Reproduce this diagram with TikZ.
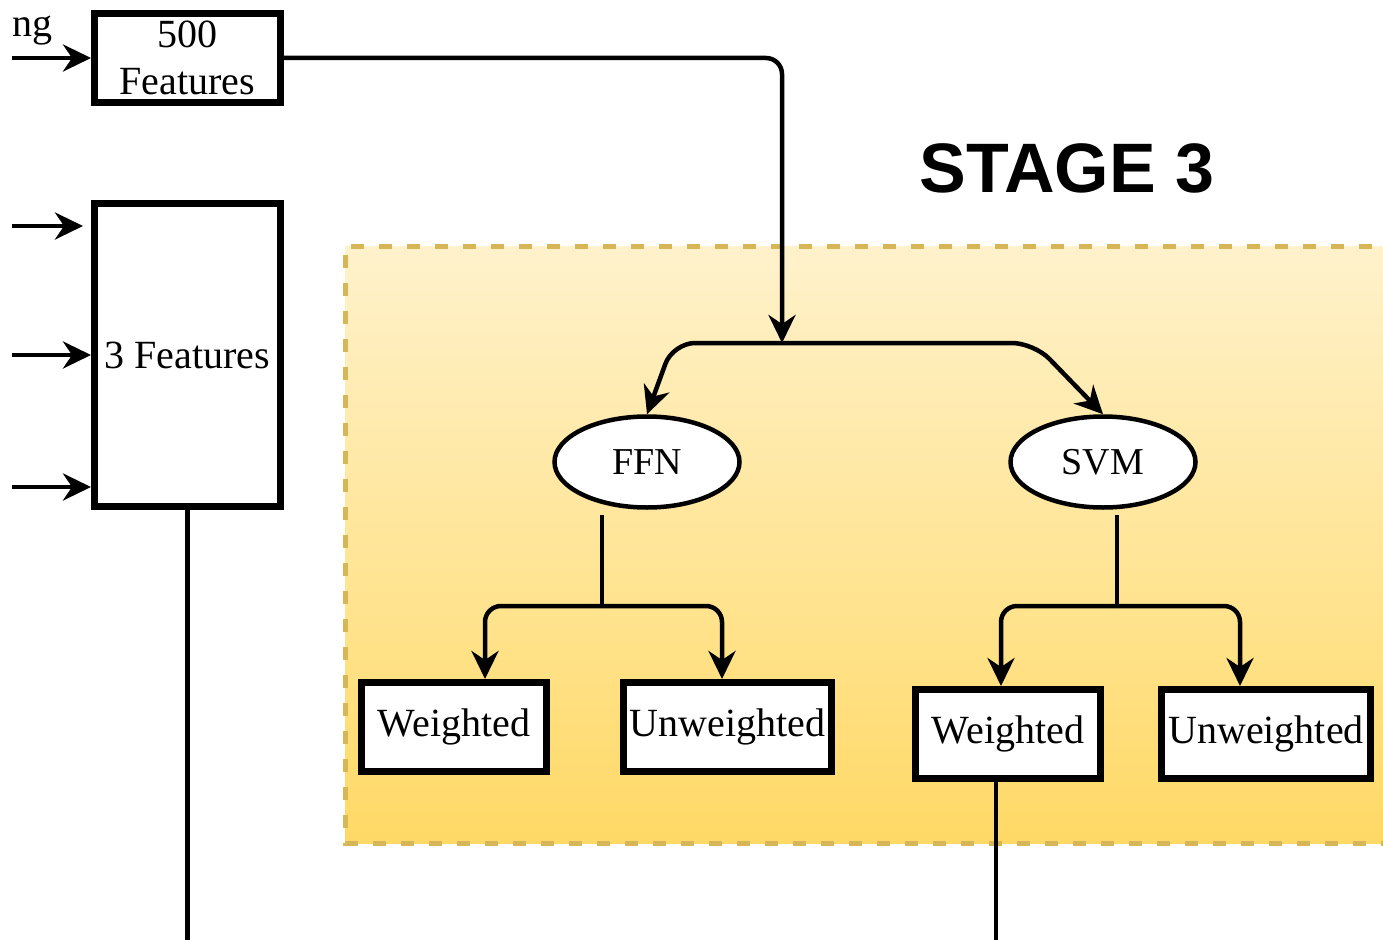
\documentclass[tikz,border=0pt]{standalone}
\usepackage{fontspec}
\setmainfont{Liberation Serif}
\newfontfamily\stagefont{Liberation Sans}
\usetikzlibrary{arrows.meta,shapes.geometric}
\definecolor{stagefill}{HTML}{FFF2CC}
\definecolor{stagegrad}{HTML}{FFD966}
\definecolor{stageline}{HTML}{D6B656}

\begin{document}
\begin{tikzpicture}[x=1pt,y=-1pt,
        box/.style={draw, line width=7pt, fill=white, inner sep=0pt, align=center,
            font=\fontsize{40}{47}\selectfont},
        model/.style={draw, ellipse, line width=4.5pt, fill=white, inner sep=0pt,
            minimum width=185pt, minimum height=91pt, font=\fontsize{38}{44}\selectfont},
        arr/.style={line width=4.5pt, -{Stealth[length=28pt,width=27pt,inset=9pt]}},
        link/.style={line width=4.5pt}]
        \useasboundingbox (0,0) rectangle (1383,939);

        % Stage 3 background
        \shade[top color=stagefill, bottom color=stagegrad] (345,246) rectangle (1400,843);
        \draw[stageline, line width=5pt, dash pattern=on 13pt off 15pt]
            (1400,246) -- (345,246) -- (345,843) -- (1400,843);
        \node[font=\stagefont\bfseries\fontsize{70}{80}\selectfont] (stage) at (1067,168) {STAGE 3};

        % Feature boxes
        \node[font=\fontsize{40}{47}\selectfont, inner sep=0pt, anchor=base west] (prev) at (12,37) {ng};
        \node[box, minimum width=186pt, minimum height=89pt] (f500) at (187.5,58) {500\\Features};
        \node[box, minimum width=186pt, minimum height=303pt] (f3) at (187.5,355) {3 Features};

        % Inputs from the left
        \coordinate (in0) at (12,58);
        \coordinate (in1) at (12,226);
        \coordinate (in2) at (12,355);
        \coordinate (in3) at (12,487);
        \draw[arr] (in0) -- (in0 -| f500.west);
        \draw[arr, shorten >=8pt] (in1) -- (in1 -| f3.west);
        \draw[arr] (in2) -- (in2 -| f3.west);
        \draw[arr] (in3) -- (in3 -| f3.west);

        % Models
        \node[model] (ffn) at (647,462) {FFN};
        \node[model] (svm) at (1103,462) {SVM};

        \coordinate (split) at (782,343);
        \draw[arr, rounded corners=16pt] (f500.east) -| (split);
        \draw[arr, rounded corners=22pt] (split) -- (673,343) -- (ffn.north);
        \draw[arr, rounded corners=22pt] (split) -- (1034,343) -- (svm.north);

        % Weighted / unweighted variants
        \node[box, minimum width=185pt, minimum height=89pt] (fw) at (454,727) {Weighted};
        \node[box, minimum width=208pt, minimum height=89pt] (fu) at (727.5,727) {Unweighted};
        \node[box, minimum width=185pt, minimum height=89pt] (sw) at (1008,734) {Weighted};
        \node[box, minimum width=209pt, minimum height=89pt] (su) at (1266,734) {Unweighted};

        \coordinate (ffnbase) at (602,515);
        \coordinate (ffnsplit) at (602,606);
        \draw[link] (ffnbase) -- (ffnsplit);
        \draw[arr, rounded corners=16pt] (ffnsplit) -| ([xshift=31pt]fw.north);
        \draw[arr, rounded corners=16pt] (ffnsplit) -| ([xshift=-5.5pt]fu.north);

        \coordinate (svmbase) at (1117,515);
        \coordinate (svmsplit) at (1117,606);
        \draw[link] (svmbase) -- (svmsplit);
        \draw[arr, rounded corners=16pt] (svmsplit) -| ([xshift=-7pt]sw.north);
        \draw[arr, rounded corners=16pt] (svmsplit) -| ([xshift=-26pt]su.north);

        % Outputs downwards
        \coordinate (out1) at (187.5,945);
        \coordinate (out2) at (996,945);
        \draw[link] (f3.south) -- (out1);
        \draw[link] ([xshift=-12pt]sw.south) -- (out2);
    \end{tikzpicture}
\end{document}
